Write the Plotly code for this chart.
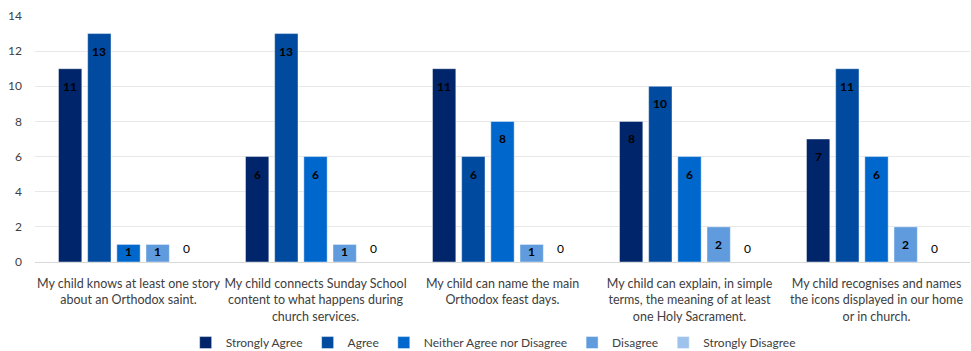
import plotly.graph_objects as go

statements = [
    "My child knows at least one story<br>about an Orthodox saint.",
    "My child connects Sunday School<br>content to what happens during<br>church services.",
    "My child can name the main<br>Orthodox feast days.",
    "My child can explain, in simple<br>terms, the meaning of at least<br>one Holy Sacrament.",
    "My child recognises and names<br>the icons displayed in our home<br>or in church.",
]

strongly_agree = [11, 6, 11, 8, 7]
agree = [13, 13, 6, 10, 11]
neither = [1, 6, 8, 6, 6]
disagree = [1, 1, 1, 2, 2]
strongly_disagree = [0, 0, 0, 0, 0]

series = [
    ("Strongly Agree", strongly_agree, "#00256a"),
    ("Agree", agree, "#004a9f"),
    ("Neither Agree nor Disagree", neither, "#0068cc"),
    ("Disagree", disagree, "#5f9bdd"),
    ("Strongly Disagree", strongly_disagree, "#9dc3ec"),
]

BAR_GAP = 0.22
GROUP_GAP = 0.2
Y_MAX = 14
PLOT_H = 246  # height of the plotting area in px

positions = list(range(len(statements)))
n_series = len(series)
slot = (1 - BAR_GAP) / n_series

fig = go.Figure()
annotations = []
for i, (name, values, color) in enumerate(series):
    fig.add_trace(go.Bar(
        name=name,
        x=positions,
        y=values,
        marker=dict(color=color, line=dict(color="rgba(255,255,255,0.55)", width=0.8)),
        hoverinfo="y+name",
    ))
    # value labels: inside near the top of each bar, above the axis for zeros
    offset = -(1 - BAR_GAP) / 2 + slot * (i + 0.5)
    for p, v in zip(positions, values):
        bar_px = v / Y_MAX * PLOT_H
        if v == 0:
            annotations.append(dict(
                x=p + offset, y=v, text=str(v), showarrow=False,
                yanchor="bottom", yshift=4,
                font=dict(size=12, color="#000000"),
            ))
        else:
            annotations.append(dict(
                x=p + offset, y=v, text=f"<b>{v}</b>", showarrow=False,
                yanchor="top", yshift=-8 if bar_px > 30 else 2,
                font=dict(size=12, color="#000000"),
            ))

fig.update_layout(
    width=971,
    height=351,
    margin=dict(l=35, r=1, t=16, b=89),
    barmode="group",
    bargap=BAR_GAP,
    bargroupgap=GROUP_GAP,
    plot_bgcolor="white",
    paper_bgcolor="white",
    font=dict(family="Lato, Liberation Sans, sans-serif", size=12, color="#404040"),
    annotations=annotations,
    legend=dict(
        orientation="h",
        xref="paper",
        x=0.49,
        xanchor="center",
        yref="container",
        y=0.024,
        yanchor="middle",
        font=dict(size=12, color="#404040"),
        traceorder="normal",
        itemwidth=30,
    ),
    xaxis=dict(
        range=[-0.5, len(statements) - 0.5],
        tickvals=positions,
        ticktext=statements,
        showgrid=False,
        zeroline=False,
        showline=True,
        linecolor="#d9d9d9",
        ticks="",
        tickfont=dict(size=12.5, color="#404040"),
        ticklabelstandoff=10,
        automargin=False,
    ),
    yaxis=dict(
        range=[0, Y_MAX],
        dtick=2,
        showgrid=True,
        gridcolor="#e8e8e8",
        zeroline=False,
        ticks="",
        tickfont=dict(size=12, color="#404040"),
        ticklabelstandoff=12,
        automargin=False,
    ),
)

fig.write_html("out.html")
